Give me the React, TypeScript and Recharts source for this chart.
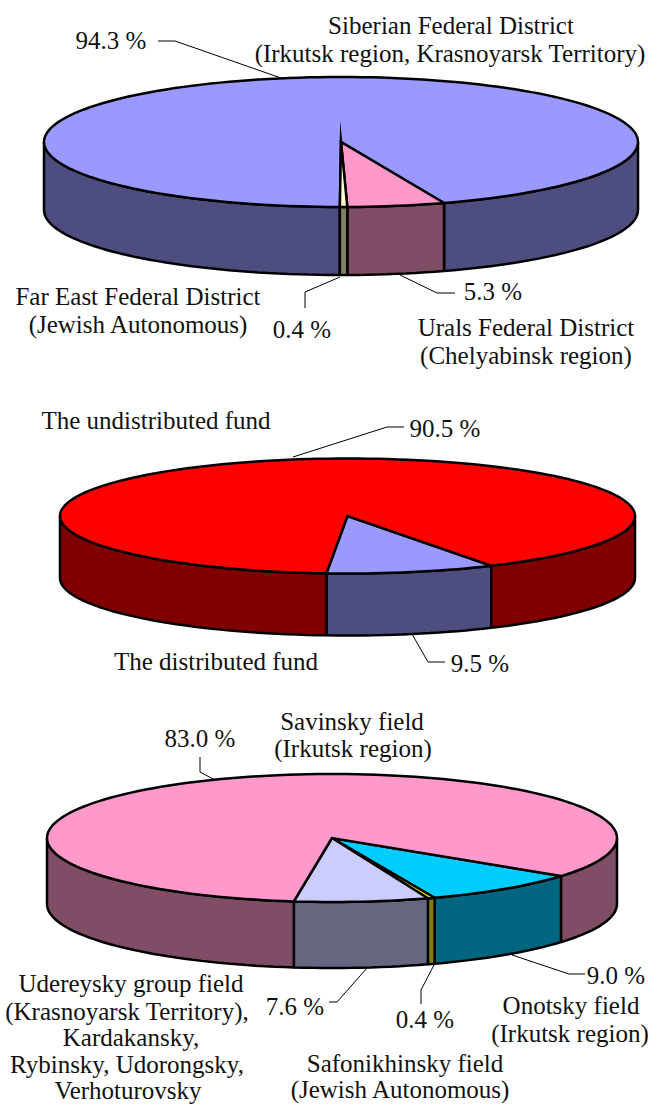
import { PieChart, Pie, Cell } from "recharts";

// drawn from the big slice round, so the thin slice and its spike land on top
const DISTRICT_NAMES = ["Siberian Federal District", "Urals Federal District", "Far East Federal District"];
const DISTRICT_VALUES = [94.3, 5.3, 0.4];
const DISTRICT_COLORS = ["#9999ff", "#ff99cc", "#ffffcc"];

const FUND_NAMES = ["The distributed fund", "The undistributed fund"];
const FUND_VALUES = [9.5, 90.5];
const FUND_COLORS = ["#9999ff", "#ff0000"];

const FIELD_NAMES = ["Onotsky field", "Safonikhinsky field", "Udereysky group field", "Savinsky field"];
const FIELD_VALUES = [9.0, 0.4, 7.6, 83.0];
const FIELD_COLORS = ["#00ccff", "#ffff00", "#ccccff", "#ff99cc"];

// [text, center x, baseline y]
const LABELS: [string, number, number][] = [
  ["Siberian Federal District", 451, 34],
  ["(Irkutsk region, Krasnoyarsk Territory)", 450, 62],
  ["94.3 %", 111, 49],
  ["Far East Federal District", 138, 305],
  ["(Jewish Autonomous)", 138, 333],
  ["0.4 %", 302, 338],
  ["5.3 %", 493, 300],
  ["Urals Federal District", 526, 336],
  ["(Chelyabinsk region)", 526, 364],
  ["The undistributed fund", 156, 429],
  ["90.5 %", 445, 437],
  ["The distributed fund", 216, 670],
  ["9.5 %", 480, 672],
  ["Savinsky field", 352, 730],
  ["(Irkutsk region)", 353, 757],
  ["83.0 %", 200, 747],
  ["Udereysky group field", 131, 992],
  ["(Krasnoyarsk Territory),", 127, 1020],
  ["Kardakansky,", 131, 1046],
  ["Rybinsky, Udorongsky,", 127, 1073],
  ["Verhoturovsky", 128, 1099],
  ["7.6 %", 295, 1015],
  ["0.4 %", 425, 1028],
  ["9.0 %", 616, 984],
  ["Onotsky field", 571, 1014],
  ["(Irkutsk region)", 570, 1042],
  ["Safonikhinsky field", 405, 1072],
  ["(Jewish Autonomous)", 400, 1098],
];

const LEADERS = [
  "158,41 175,41 281,78",
  "400,275 437,293 455,293",
  "340,277 305,292 305,308",
  "293,457 387,427 404,427",
  "412,634 428,662 445,662",
  "200,757 200,772 215,780",
  "367,968 337,1002 329,1002",
  "435,963 421,990 421,1004",
  "512,955 569,974 585,974",
];

const RAD = Math.PI / 180;

// flat pie angle -> point on the tilted rim
const rim = (cx: number, cy: number, rx: number, ry: number, a: number) =>
  `${(cx + rx * Math.cos(a * RAD)).toFixed(2)},${(cy - ry * Math.sin(a * RAD)).toFixed(2)}`;

const arcPoints = (from: number, to: number) => {
  const steps = Math.max(2, Math.ceil(Math.abs(to - from) / 2));
  const out: number[] = [];
  for (let i = 0; i <= steps; i++) out.push(from + ((to - from) * i) / steps);
  return out;
};

const darken = (hex: string) => {
  const n = parseInt(hex.slice(1), 16);
  const half = (v: number) => Math.round(v / 2).toString(16).padStart(2, "0");
  return `#${half((n >> 16) & 255)}${half((n >> 8) & 255)}${half(n & 255)}`;
};

// draws one slice as a tilted disc sector with its front wall
const tiltedSector = (ry: number, depth: number) => (props: any) => {
  const { cx, cy, outerRadius: rx, startAngle, endAngle, fill } = props;
  const hi = Math.max(startAngle, endAngle);
  const lo = Math.min(startAngle, endAngle);
  const walls: string[] = [];
  // the front half of the rim is at angles -180..0, every 360 degrees
  for (let k = -2; k <= 1; k++) {
    const a = Math.max(lo, -180 + 360 * k);
    const b = Math.min(hi, 360 * k);
    if (b <= a) continue;
    const pts = arcPoints(a, b);
    const top = pts.map((t) => rim(cx, cy, rx, ry, t));
    const bottom = pts.map((t) => rim(cx, cy + depth, rx, ry, t)).reverse();
    walls.push(`M${top.join(" L")} L${bottom.join(" L")} Z`);
  }
  const face = arcPoints(startAngle, endAngle).map((t) => rim(cx, cy, rx, ry, t));
  return (
    <g stroke="#000" strokeWidth={2.5}>
      {walls.map((d, i) => (
        <path key={i} d={d} fill={darken(fill)} strokeLinejoin="bevel" />
      ))}
      <path d={`M${cx},${cy} L${face.join(" L")} Z`} fill={fill} strokeLinejoin="miter" strokeMiterlimit={24} />
    </g>
  );
};

const tableOf = (names: string[], values: number[]) => names.map((name, i) => ({ name, value: values[i] }));

export default function App() {
  return (
    <div style={{ position: "absolute", left: 0, top: 0 }}>
      <PieChart width={650} height={1104} margin={{ top: 0, right: 0, bottom: 0, left: 0 }}>
        <Pie
          data={tableOf(DISTRICT_NAMES, DISTRICT_VALUES)}
          dataKey="value"
          cx={341}
          cy={142}
          outerRadius={297}
          startAngle={-90.22}
          endAngle={-450.22}
          shape={tiltedSector(65, 68)}
          isAnimationActive={false}
        >
          {DISTRICT_COLORS.map((c, i) => (
            <Cell key={i} fill={c} />
          ))}
        </Pie>
        <Pie
          data={tableOf(FUND_NAMES, FUND_VALUES)}
          dataKey="value"
          cx={347.5}
          cy={516}
          outerRadius={287.5}
          startAngle={-60}
          endAngle={-420}
          shape={tiltedSector(57.5, 62)}
          isAnimationActive={false}
        >
          {FUND_COLORS.map((c, i) => (
            <Cell key={i} fill={c} />
          ))}
        </Pie>
        <Pie
          data={tableOf(FIELD_NAMES, FIELD_VALUES)}
          dataKey="value"
          cx={332}
          cy={838}
          outerRadius={285}
          startAngle={-36.5}
          endAngle={-396.5}
          shape={tiltedSector(64, 66)}
          isAnimationActive={false}
        >
          {FIELD_COLORS.map((c, i) => (
            <Cell key={i} fill={c} />
          ))}
        </Pie>
        {LEADERS.map((points, i) => (
          <polyline key={i} points={points} fill="none" stroke="#000" strokeWidth={1} />
        ))}
        {LABELS.map(([text, x, y], i) => (
          <text key={i} x={x} y={y} textAnchor="middle" fontFamily="Liberation Serif" fontSize={25} fill="#111">
            {text}
          </text>
        ))}
      </PieChart>
    </div>
  );
}
